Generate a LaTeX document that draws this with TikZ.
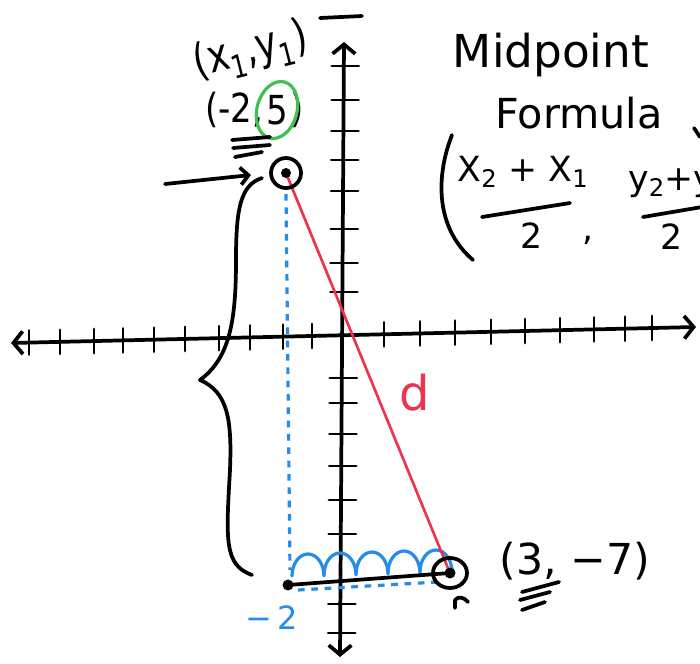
\documentclass[tikz,border=0pt]{standalone}
\usepackage{fontspec}
\setmainfont{DejaVu Sans}
\usetikzlibrary{arrows.meta}
\definecolor{penred}{RGB}{236,52,78}
\definecolor{penblue}{RGB}{38,140,232}
\definecolor{pengreen}{RGB}{64,192,80}
\tikzset{
  ink/.style={line width=2.8pt,line cap=round,line join=round},
  tickmark/.style={line width=2.2pt,line cap=round},
  guide/.style={penblue,line width=2.4pt,dash pattern=on 5pt off 5pt},
  hand/.style={inner sep=0pt,font=\fontsize{#1}{#1}\selectfont},
  barb/.style={ink,{Straight Barb[length=7pt,width=17pt]}-{Straight Barb[length=7pt,width=17pt]}}
}
\begin{document}
\begin{tikzpicture}[x=0.75pt,y=-0.75pt]
  \useasboundingbox (0,0) rectangle (700,664);
  \clip (0,0) rectangle (700,664);

  % Coordinates
  \coordinate (xl) at (11,343);
  \coordinate (xr) at (696,327);
  \coordinate (yt) at (344,42);
  \coordinate (yb) at (340,657);
  \coordinate (P1) at (286,173);
  \coordinate (P2) at (450,573);
  \coordinate (Q) at (288,585);
  \coordinate (tail) at (165,184);
  \coordinate (tip) at (251,175);
  \coordinate (vtop) at (286,194);
  \coordinate (vbot) at (290,570);
  \coordinate (hl) at (298,590);
  \coordinate (hr) at (438,582);
  \coordinate (bt) at (262,178);
  \coordinate (bb) at (252,575);

  % Axes
  \draw[barb] (xl) -- (xr);
  \draw[barb] (yt) -- (yb);
  \draw[ink] (320,18) -- (362,16);
  \foreach \tx in {29,60,94,123,154,185,219,250,283,312,384,420,455,491,525,560,594,625,652} {
    \pgfmathsetmacro\ty{343-(\tx-11)*16/685}
    \draw[tickmark] (\tx,{\ty-12}) -- (\tx,{\ty+12});
  }
  \foreach \ty in {66,100,131,160,191,229,263,292,378,403,434,466,500,534,604,633} {
    \pgfmathsetmacro\tx{344-(\ty-42)*4/615}
    \draw[tickmark] ({\tx-12},\ty) -- ({\tx+15},\ty);
  }

  % Drawing
  \draw[guide] (vtop) -- (vbot);
  \draw[guide] (hl) -- (hr);
  \foreach \k in {0,...,4}
    \draw[penblue,line width=2.4pt,line cap=round] ({292+32*\k},{576-\k}) arc[start angle=180,end angle=360,x radius=16,y radius=22];
  \draw[penred,line width=2pt] (P1) -- (P2);
  \draw[ink] (Q) -- (P2);
  \draw[ink] (P1) circle (15);
  \draw[ink] (P2) ellipse[x radius=17,y radius=15];
  \fill (P1) circle (5);
  \fill (P2) circle (5.5);
  \fill (Q) circle (5.5);
  \draw[ink] (455,608) -- (455,600) .. controls (458,596) and (464,597) .. (468,602);
  \draw[ink,-{Straight Barb[length=6pt,width=13pt]}] (tail) -- (tip);
  \draw[ink] (bt) .. controls (240,185) and (236,210) .. (236,260)
    .. controls (236,320) and (230,358) .. (200,380)
    .. controls (228,392) and (232,420) .. (230,470)
    .. controls (226,540) and (224,565) .. (bb);

  % Labels
  \node[hand=34,rotate=14,xscale=0.8] (xy1) at (251,52) {(x\textsubscript{1},y\textsubscript{1})};
  \node[hand=30,xscale=0.85] (five) at (277,110) {5};
  \node[hand=30,xscale=0.85,anchor=east] (lowleft) at ([xshift=-2pt]five.west) {(-2,};
  \node[hand=30,xscale=0.85,anchor=west] (lowright) at ([xshift=2pt]five.east) {)};
  \draw[pengreen,line width=2.4pt,rotate around={-15:(five)}] (five) ellipse[x radius=20,y radius=29];
  \draw[ink] (232,140) -- (270,137);
  \draw[ink] (233,148) -- (270,145);
  \draw[ink] (235,157) -- (262,152);

  \node[hand=34] (mid) at (551,55) {Midpoint};
  \node[hand=31] (formula) at (579,113) {Formula};
  \draw[ink] (694,128) -- (700,137);
  \draw[ink] (452,135) .. controls (438,170) and (432,225) .. (473,260);
  \node[hand=26] (num1) at (523,172) {X\textsubscript{2} + X\textsubscript{1}};
  \draw[ink] (482,217) -- (570,203);
  \node[hand=26] (den1) at (532,236) {2};
  \node[hand=26] (comma) at (588,240) {,};
  \node[hand=26,anchor=west] (num2) at (628,183) {y\textsubscript{2}+y\textsubscript{1}};
  \draw[ink] (643,217) -- (702,207);
  \node[hand=26] (den2) at (672,237) {2};

  \node[hand=24,penblue] (qlabel) at (272,618) {−\,2};
  \node[hand=36,penred] (dlabel) at (415,393) {d};
  \node[hand=32] (ptlabel) at (575,561) {(3, −7)};
  \draw[ink] (522,592) -- (559,582);
  \draw[ink] (520,600) -- (550,592);
  \draw[ink] (522,610) -- (545,602);
\end{tikzpicture}
\end{document}
